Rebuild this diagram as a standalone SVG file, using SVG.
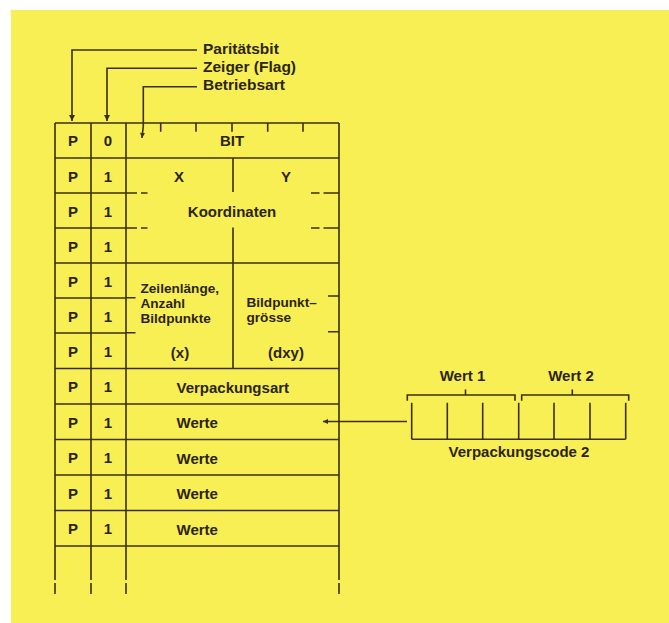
<svg xmlns="http://www.w3.org/2000/svg" width="669" height="623" viewBox="0 0 669 623">
<style>
.ln{stroke:#3a2f14;stroke-width:1.6;fill:none;stroke-linecap:butt}
.t{font-family:"Liberation Sans",Arial,sans-serif;font-weight:bold;font-size:15px;fill:#2b2410}
.s{font-size:13.6px}
.tl{font-family:"Liberation Sans",Arial,sans-serif;font-weight:bold;font-size:15.5px;fill:#2b2410}
.c{text-anchor:middle}
</style>
<defs>
<marker id="ah" viewBox="0 0 10 10" refX="10" refY="5" markerWidth="8" markerHeight="6" markerUnits="userSpaceOnUse" orient="auto">
<path d="M0,0 L10,5 L0,10 Z" fill="#3a2f14"/>
</marker>
<marker id="ahs" viewBox="0 0 10 10" refX="10" refY="5" markerWidth="7" markerHeight="5" markerUnits="userSpaceOnUse" orient="auto">
<path d="M0,0 L10,5 L0,10 Z" fill="#3a2f14"/>
</marker>
</defs>
<rect x="0" y="0" width="669" height="623" fill="#ffffff"/>
<rect x="11" y="10" width="658" height="613" fill="#f8ef55"/>

<g id="table">
<path class="ln" d="M55,123 H339 M55,158 H339 M55,193 H126 M55,228 H126 M55,263 H339 M55,298 H126 M55,333 H126 M55,368.5 H339 M55,404 H339 M55,439.5 H339 M55,475 H339 M55,510.5 H339 M55,546 H339"/>
<path class="ln" d="M55,123 V580 M91,123 V580 M126,123 V580 M339,123 V580"/>
<path class="ln" d="M55,583 V594 M91,583 V594 M126,583 V594 M339,583 V594"/>
<path class="ln" d="M160.7,123 V131.7 M196,123 V131.7 M232,123 V131.7 M267.7,123 V131.7 M303,123 V131.7"/>
<path class="ln" d="M233,158 V192 M233,227.5 V368.5"/>
<path class="ln" d="M126,193 H137 M141,193 H147.5 M311,193 H319.5 M323.5,193 H339 M126,228 H137 M141,228 H147.5 M311,228 H319.5 M323.5,228 H339"/>
<path class="ln" d="M126,297.7 H135.5 M126,332.7 H135.5 M328,296 H339 M328,331.7 H339"/>
<g class="t c">
<text x="73" y="146">P</text><text x="108" y="146">0</text>
<text x="73" y="181.5">P</text><text x="108" y="181.5">1</text>
<text x="73" y="216.5">P</text><text x="108" y="216.5">1</text>
<text x="73" y="251.5">P</text><text x="108" y="251.5">1</text>
<text x="73" y="286.5">P</text><text x="108" y="286.5">1</text>
<text x="73" y="321.5">P</text><text x="108" y="321.5">1</text>
<text x="73" y="357">P</text><text x="108" y="357">1</text>
<text x="73" y="392">P</text><text x="108" y="392">1</text>
<text x="73" y="427.5">P</text><text x="108" y="427.5">1</text>
<text x="73" y="463">P</text><text x="108" y="463">1</text>
<text x="73" y="498.5">P</text><text x="108" y="498.5">1</text>
<text x="73" y="534">P</text><text x="108" y="534">1</text>
<text x="232" y="146">BIT</text>
<text x="179" y="181.5">X</text>
<text x="286" y="181.5">Y</text>
<text x="232" y="216.5">Koordinaten</text>
<text x="180" y="358">(x)</text>
<text x="286" y="358">(dxy)</text>
</g>
<g class="t">
<text class="s" x="140.5" y="292.5">Zeilenlänge,</text>
<text class="s" x="140.5" y="307.7">Anzahl</text>
<text class="s" x="140.5" y="322.9">Bildpunkte</text>
<text class="s" x="246.5" y="306.5">Bildpunkt–</text>
<text class="s" x="246.5" y="321.7">grösse</text>
<text x="176.5" y="393">Verpackungsart</text>
<text x="176.5" y="428">Werte</text>
<text x="176.5" y="463.5">Werte</text>
<text x="176.5" y="499">Werte</text>
<text x="176.5" y="534.5">Werte</text>
</g>
</g>

<g id="code">
<path class="ln" d="M411.7,402.7 V439.3 M447.3,402.7 V439.3 M482.7,402.7 V439.3 M518.7,402.7 V439.3 M554,402.7 V439.3 M590,402.7 V439.3 M625.7,402.7 V439.3 M411.7,439.3 H625.7"/>
<path class="ln" d="M407.3,400.7 V395 H515 V400.7 M465.5,395 V389.5 M521.7,400.7 V395 H628.7 V400.7 M572.3,395 V389.5"/>
<text class="t c" x="462.5" y="381">Wert 1</text>
<text class="t c" x="571" y="381">Wert 2</text>
<text class="t c" x="519" y="457">Verpackungscode 2</text>
</g>

<g id="labels">
<text class="tl" x="203" y="54">Paritätsbit</text>
<text class="tl" x="203" y="72">Zeiger (Flag)</text>
<text class="tl" x="203" y="90">Betriebsart</text>
</g>

<g id="connectors">
<path class="ln" d="M197,50 H72 V121" marker-end="url(#ah)"/>
<path class="ln" d="M197,68.3 H107 V121" marker-end="url(#ah)"/>
<path class="ln" d="M197,86.7 H143.3 V126 L142,138" marker-end="url(#ahs)"/>
<path class="ln" d="M407,421.5 H323" marker-end="url(#ahs)"/>
</g>
</svg>
